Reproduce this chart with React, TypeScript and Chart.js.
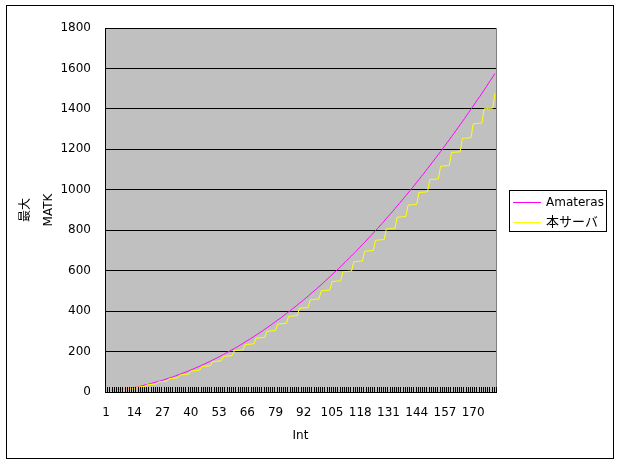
import React, { useEffect, useRef } from 'react';
import { Chart, registerables } from 'chart.js';

Chart.register(...registerables);

const intCategories = [
  1, 2, 3, 4, 5, 6, 7, 8, 9, 10, 11, 12, 13, 14, 15, 16, 17, 18, 19, 20,
  21, 22, 23, 24, 25, 26, 27, 28, 29, 30, 31, 32, 33, 34, 35, 36, 37, 38, 39, 40,
  41, 42, 43, 44, 45, 46, 47, 48, 49, 50, 51, 52, 53, 54, 55, 56, 57, 58, 59, 60,
  61, 62, 63, 64, 65, 66, 67, 68, 69, 70, 71, 72, 73, 74, 75, 76, 77, 78, 79, 80,
  81, 82, 83, 84, 85, 86, 87, 88, 89, 90, 91, 92, 93, 94, 95, 96, 97, 98, 99, 100,
  101, 102, 103, 104, 105, 106, 107, 108, 109, 110, 111, 112, 113, 114, 115, 116, 117, 118, 119, 120,
  121, 122, 123, 124, 125, 126, 127, 128, 129, 130, 131, 132, 133, 134, 135, 136, 137, 138, 139, 140,
  141, 142, 143, 144, 145, 146, 147, 148, 149, 150, 151, 152, 153, 154, 155, 156, 157, 158, 159, 160,
  161, 162, 163, 164, 165, 166, 167, 168, 169, 170, 171, 172, 173, 174, 175, 176, 177, 178, 179, 180,
];

const xTickLabels = [1, 14, 27, 40, 53, 66, 79, 92, 105, 118, 131, 144, 157, 170];

const amaterasValues = [
  1, 2, 3, 5, 6, 8, 9, 11, 12, 14,
  16, 18, 20, 22, 25, 27, 29, 32, 35, 37,
  40, 43, 46, 49, 52, 55, 58, 62, 65, 69,
  72, 76, 80, 84, 88, 92, 96, 100, 104, 109,
  113, 118, 123, 127, 132, 137, 142, 147, 152, 158,
  163, 168, 174, 180, 185, 191, 197, 203, 209, 215,
  221, 227, 234, 240, 247, 254, 260, 267, 274, 281,
  288, 295, 302, 310, 317, 325, 332, 340, 348, 356,
  363, 371, 380, 388, 396, 404, 413, 421, 430, 439,
  447, 456, 465, 474, 484, 493, 502, 511, 521, 530,
  540, 550, 560, 570, 580, 590, 600, 610, 620, 631,
  641, 652, 663, 673, 684, 695, 706, 717, 729, 740,
  751, 763, 774, 786, 798, 809, 821, 833, 845, 858,
  870, 882, 894, 907, 920, 932, 945, 958, 971, 984,
  997, 1010, 1023, 1037, 1050, 1064, 1077, 1091, 1105, 1119,
  1133, 1147, 1161, 1175, 1189, 1204, 1218, 1233, 1247, 1262,
  1277, 1292, 1307, 1322, 1337, 1352, 1368, 1383, 1399, 1414,
  1430, 1446, 1461, 1477, 1493, 1509, 1526, 1542, 1558, 1575,
];

const honServerValues = [
  1, 2, 3, 4, 6, 7, 8, 9, 10, 14,
  15, 16, 17, 18, 24, 25, 26, 27, 28, 36,
  37, 38, 39, 40, 50, 51, 52, 53, 54, 66,
  67, 68, 69, 70, 84, 85, 86, 87, 88, 104,
  105, 106, 107, 108, 126, 127, 128, 129, 130, 150,
  151, 152, 153, 154, 176, 177, 178, 179, 180, 204,
  205, 206, 207, 208, 234, 235, 236, 237, 238, 266,
  267, 268, 269, 270, 300, 301, 302, 303, 304, 336,
  337, 338, 339, 340, 374, 375, 376, 377, 378, 414,
  415, 416, 417, 418, 456, 457, 458, 459, 460, 500,
  501, 502, 503, 504, 546, 547, 548, 549, 550, 594,
  595, 596, 597, 598, 644, 645, 646, 647, 648, 696,
  697, 698, 699, 700, 750, 751, 752, 753, 754, 806,
  807, 808, 809, 810, 864, 865, 866, 867, 868, 924,
  925, 926, 927, 928, 986, 987, 988, 989, 990, 1050,
  1051, 1052, 1053, 1054, 1116, 1117, 1118, 1119, 1120, 1184,
  1185, 1186, 1187, 1188, 1254, 1255, 1256, 1257, 1258, 1326,
  1327, 1328, 1329, 1330, 1400, 1401, 1402, 1403, 1404, 1476,
];

const seriesNames = ['Amateras', '本サーバ'];
const seriesColors = ['#FF00FF', '#FFFF00'];
const yMin = 0;
const yMax = 1800;
const yStep = 200;
const xTitle = 'Int';
const yTitle = ['最大', 'MATK'];

const FONT = '"DejaVu Sans", "Noto Sans CJK JP", sans-serif';

const framePlugin = {
  id: 'excelFrame',
  beforeDraw(chart: any) {
    const { ctx, chartArea: a } = chart;
    ctx.save();
    ctx.fillStyle = '#FFFFFF';
    ctx.fillRect(0, 0, chart.width, chart.height);
    ctx.fillStyle = '#C0C0C0';
    ctx.fillRect(a.left, a.top, a.right - a.left, a.bottom - a.top);
    ctx.strokeStyle = '#808080';
    ctx.lineWidth = 1;
    ctx.strokeRect(a.left + 0.5, a.top + 0.5, a.right - a.left, a.bottom - a.top);
    ctx.restore();
  },
  afterDraw(chart: any) {
    const { ctx, chartArea: a } = chart;
    const xs = chart.scales.x;
    ctx.save();
    ctx.strokeStyle = '#000000';
    ctx.lineWidth = 1;
    const n = intCategories.length;
    const w = (xs.getPixelForValue(n - 1) - xs.getPixelForValue(0)) / (n - 1);
    ctx.beginPath();
    for (let i = 0; i <= n; i++) {
      const px = Math.round(xs.getPixelForValue(0) - w / 2 + i * w) + 0.5;
      ctx.moveTo(px, a.bottom);
      ctx.lineTo(px, a.bottom - 5);
    }
    ctx.stroke();
    ctx.strokeRect(6.5, 5.5, 607, 453);
    const lx = 509.5;
    const ly = 190.5;
    ctx.fillStyle = '#FFFFFF';
    ctx.fillRect(lx, ly, 97, 41);
    ctx.strokeStyle = '#000000';
    ctx.strokeRect(lx, ly, 97, 41);
    const rows = [202.5, 222.5];
    ctx.textBaseline = 'middle';
    ctx.textAlign = 'left';
    seriesNames.forEach((name, i) => {
      ctx.strokeStyle = seriesColors[i];
      ctx.beginPath();
      ctx.moveTo(513, rows[i]);
      ctx.lineTo(541, rows[i]);
      ctx.stroke();
      ctx.fillStyle = '#000000';
      ctx.font = (i === 1 ? '13px ' : '12px ') + FONT;
      ctx.fillText(name, 546, rows[i] + 0.5);
    });
    ctx.restore();
  },
};

export default function App() {
  const canvasRef = useRef<HTMLCanvasElement | null>(null);

  useEffect(() => {
    if (!canvasRef.current) return;
    Chart.defaults.font.family = FONT;
    Chart.defaults.color = '#000000';
    const chart = new Chart(canvasRef.current, {
      type: 'line',
      data: {
        labels: intCategories.map(String),
        datasets: [
          {
            label: seriesNames[0],
            data: amaterasValues,
            borderColor: seriesColors[0],
            backgroundColor: seriesColors[0],
            borderWidth: 1,
            pointRadius: 0,
            tension: 0,
            order: 1,
          },
          {
            label: seriesNames[1],
            data: honServerValues,
            borderColor: seriesColors[1],
            backgroundColor: seriesColors[1],
            borderWidth: 1,
            pointRadius: 0,
            tension: 0,
            order: 0,
          },
        ],
      },
      options: {
        animation: false,
        responsive: false,
        maintainAspectRatio: false,
        events: [],
        layout: { padding: { left: 0, top: 28, right: 124, bottom: 0 } },
        plugins: {
          legend: { display: false },
          tooltip: { enabled: false },
          title: { display: false },
        },
        scales: {
          x: {
            type: 'category',
            offset: true,
            afterFit(scale: any) {
              scale.height = 73;
            },
            grid: { display: false, drawTicks: false },
            border: { display: true, color: '#000000', width: 1 },
            ticks: {
              autoSkip: false,
              maxRotation: 0,
              minRotation: 0,
              padding: 14,
              color: '#000000',
              font: { size: 12, family: FONT },
              callback(this: any, value: any, index: number) {
                const c = intCategories[index];
                return xTickLabels.includes(c) ? String(c) : '';
              },
            },
            title: {
              display: true,
              text: xTitle,
              color: '#000000',
              font: { size: 12, family: FONT },
              padding: { top: 0, bottom: 22 },
            },
          },
          y: {
            min: yMin,
            max: yMax,
            afterFit(scale: any) {
              scale.width = 105;
            },
            grid: { color: '#000000', lineWidth: 1, drawTicks: false },
            border: { display: true, color: '#000000', width: 1 },
            ticks: {
              stepSize: yStep,
              padding: 14,
              color: '#000000',
              font: { size: 12, family: FONT },
              callback(value: any) {
                return String(value);
              },
            },
            title: {
              display: true,
              text: yTitle,
              color: '#000000',
              font: { size: 12, family: FONT, lineHeight: 1.92 },
              padding: { top: 14.5, bottom: 0 },
            },
          },
        },
      },
      plugins: [framePlugin],
    });
    return () => chart.destroy();
  }, []);

  return (
    <div style={{ position: 'fixed', left: 0, top: 0, width: 620, height: 465, background: '#fff' }}>
      <canvas ref={canvasRef} width={620} height={465} style={{ display: 'block', width: 620, height: 465 }} />
    </div>
  );
}
